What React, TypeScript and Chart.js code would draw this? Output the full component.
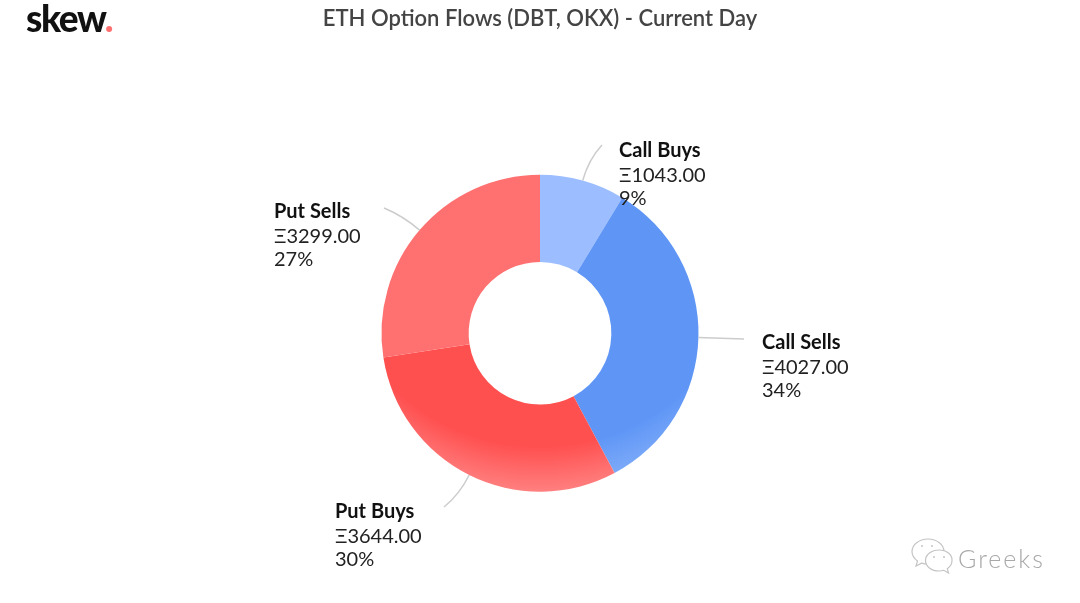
import React, { useEffect, useRef } from "react";
import { Chart, registerables } from "chart.js";

Chart.register(...registerables);

const categories = ["Call Buys", "Call Sells", "Put Buys", "Put Sells"];
const flows = [1043, 4027, 3644, 3299];
const percents = ["9%", "34%", "30%", "27%"];
const sliceTop = ["#9cbdff", "#5f96f6", "#ff5050", "#ff7070"];
const sliceEdge = ["#9cbdff", "#82aef9", "#ff8080", "#ff7070"];
const labelAnchors = [
  { x: 619, y: 151, lx: 602, ly: 145 },
  { x: 762, y: 343, lx: 744, ly: 339 },
  { x: 335, y: 512, lx: 444, ly: 507 },
  { x: 274, y: 212, lx: 384, ly: 208 },
];
const titleText = "ETH Option Flows (DBT, OKX) - Current Day";

const FONT = "Lato, 'Noto Sans', sans-serif";

const labelsPlugin = {
  id: "flowLabels",
  afterDatasetsDraw(chart: any) {
    const { ctx } = chart;
    const arcs = chart.getDatasetMeta(0).data;
    arcs.forEach((arc: any, i: number) => {
      const a = labelAnchors[i];
      const mid = (arc.startAngle + arc.endAngle) / 2;
      const sx = arc.x + Math.cos(mid) * arc.outerRadius;
      const sy = arc.y + Math.sin(mid) * arc.outerRadius;
      ctx.save();
      ctx.strokeStyle = "#cccccc";
      ctx.lineWidth = 1.5;
      ctx.beginPath();
      ctx.moveTo(sx, sy);
      ctx.quadraticCurveTo(
        sx + Math.cos(mid) * 22,
        sy + Math.sin(mid) * 22,
        a.lx,
        a.ly
      );
      ctx.stroke();
      ctx.textBaseline = "middle";
      ctx.textAlign = "left";
      ctx.fillStyle = "#111111";
      ctx.font = `700 20px ${FONT}`;
      ctx.fillText(categories[i], a.x, a.y);
      ctx.font = `400 20px ${FONT}`;
      ctx.fillStyle = "#222222";
      ctx.fillText(`Ξ${flows[i].toFixed(2)}`, a.x, a.y + 25);
      ctx.fillText(percents[i], a.x, a.y + 48);
      ctx.restore();
    });
  },
};

export default function App() {
  const ref = useRef<HTMLCanvasElement>(null);
  useEffect(() => {
    const canvas = ref.current!;
    const fill = (c: any) => {
      const i = c.dataIndex;
      const area = c.chart.chartArea;
      if (!area) return sliceTop[i];
      const cx = (area.left + area.right) / 2;
      const cy = (area.top + area.bottom) / 2 - 99;
      const grad = c.chart.ctx.createRadialGradient(cx, cy, 213, cx, cy, 258);
      grad.addColorStop(0, sliceTop[i]);
      grad.addColorStop(1, sliceEdge[i]);
      return grad;
    };
    const chart = new Chart(canvas, {
      type: "doughnut",
      data: {
        labels: categories,
        datasets: [
          {
            data: flows,
            backgroundColor: fill as any,
            borderWidth: 0,
          },
        ],
      },
      options: {
        animation: false,
        responsive: false,
        cutout: "45%",
        radius: 158.5,
        layout: { padding: { top: 6, bottom: 0 } },
        plugins: {
          legend: { display: false },
          tooltip: { enabled: false },
          title: {
            display: true,
            text: titleText,
            color: "#444444",
            font: { family: FONT, size: 22, weight: 600 as any },
            padding: { top: 0, bottom: 31 },
          },
        },
      },
      plugins: [labelsPlugin],
    });
    return () => chart.destroy();
  }, []);
  return (
    <div style={{ position: "fixed", inset: 0, background: "#fff", overflow: "hidden" }}>
      <canvas ref={ref} width={1080} height={603} style={{ display: "block" }} />
      <div
        style={{
          position: "absolute",
          left: 26,
          top: -5,
          font: `900 37px ${FONT}`,
          color: "#111",
          letterSpacing: -1.4,
        }}
      >
        skew<span style={{ color: "#ff7070" }}>.</span>
      </div>
      <svg
        width="44"
        height="40"
        viewBox="0 0 44 40"
        style={{ position: "absolute", left: 910, top: 536 }}
        fill="#fff"
        stroke="#c4c4c4"
        strokeWidth="1.2"
      >
        <path d="M18 3c-9 0-16 5.600-16 12.500 0 3.800 2.200 7.200 5.500 9.500l-1.500 5 5.500-2.900c2 .6 4.200 .9 6.500 .9 9 0 16-5.600 16-12.500S27 3 18 3z" />
        <path d="M29 14c-7.500 0-13.500 4.700-13.500 10.500S21.500 35 29 35c1.700 0 3.300-.2 4.800-.7l4.700 2.700-1.200-4.300c2.800-1.900 4.700-4.800 4.700-8.200C42.500 18.700 36.500 14 29 14z" />
        <circle cx="12" cy="10" r="1" fill="#c4c4c4" stroke="none" />
        <circle cx="22" cy="10" r="1" fill="#c4c4c4" stroke="none" />
        <circle cx="24" cy="21" r="1" fill="#c4c4c4" stroke="none" />
        <circle cx="34" cy="21" r="1" fill="#c4c4c4" stroke="none" />
      </svg>
      <div
        style={{
          position: "absolute",
          left: 958,
          top: 543,
          font: `300 25px ${FONT}`,
          color: "#a8a8a8",
          letterSpacing: 2,
        }}
      >
        Greeks
      </div>
    </div>
  );
}
